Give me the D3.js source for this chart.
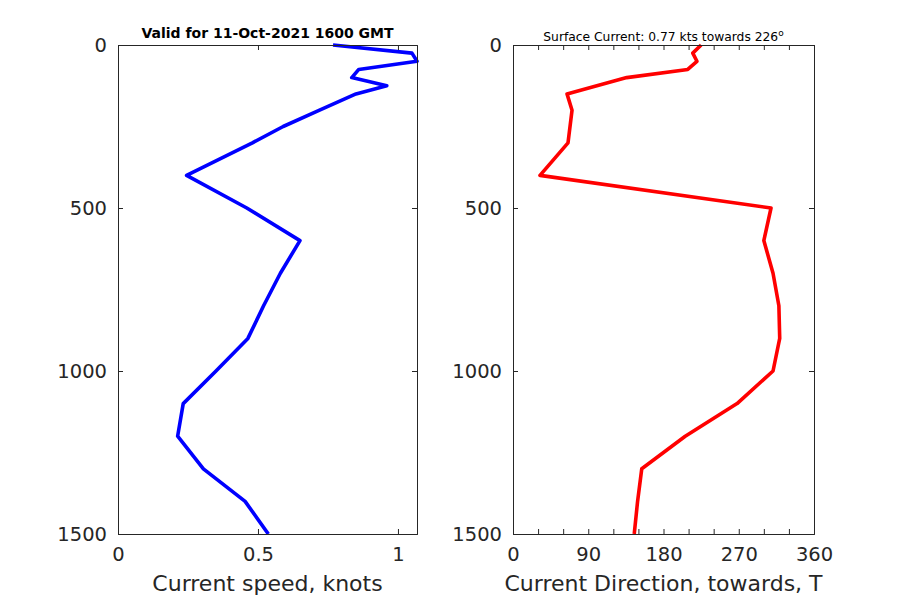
<!DOCTYPE html>
<html><head><meta charset="utf-8">
<script src="https://cdn.jsdelivr.net/npm/d3@7"></script>
<style>body{margin:0;background:#fff}svg{display:block}</style>
</head><body><svg id="c" width="900" height="600"></svg>
<script>
const depths = [0,25,50,75,100,125,150,200,250,300,400,500,600,700,800,900,1000,1100,1200,1300,1400,1500];
const speeds = [0.768,1.05,1.068,0.86,0.835,0.96,0.85,0.72,0.59,0.48,0.245,0.46,0.65,0.58,0.52,0.464,0.35,0.233,0.213,0.305,0.454,0.537];
const dirDepths = [0,25,50,75,100,150,200,300,400,500,600,700,800,900,1000,1100,1200,1300,1400,1500];
const directions = [225,215,220,209,136,64.6,70.6,65.8,32.3,308.6,300,311,318,319,311,268,206,154,149,145];
const depthTicks = [0,500,1000,1500];
const speedTicks = [0,0.5,1];
const dirTicks = [0,30,60,90,120,150,180,210,240,270,300,330,360];
const dirLabels = [0,90,180,270,360];
const title1 = "Valid for 11-Oct-2021 1600 GMT";
const title2 = "Surface Current: 0.77 kts towards 226";
const xlab1 = "Current speed, knots";
const xlab2 = "Current Direction, towards, T";

const svg = d3.select("#c");
const FONT = "DejaVu Sans, sans-serif";
const AX = "#262626";
const yTop = 45, yBot = 534;
const y = d3.scaleLinear().domain([0,1500]).range([yTop,yBot]);

function panel(x0,x1,domain,ticks,labels,fmt,xs,ys,color,tlab,xlab,titleBold){
  const x = d3.scaleLinear().domain(domain).range([x0,x1]);
  const g = svg.append("g");
  const line = d3.line().x(d=>x(d[0])).y(d=>y(d[1]));
  const pts = xs.map((v,i)=>[v,ys[i]]);
  const clip = "clip"+Math.round(x0);
  svg.append("clipPath").attr("id",clip).append("rect").attr("x",x0).attr("y",yTop-3).attr("width",x1-x0+3).attr("height",yBot-yTop+3);
  g.append("path").datum(pts).attr("d",line).attr("fill","none").attr("stroke",color)
   .attr("stroke-width",3.6).attr("stroke-linejoin","round").attr("clip-path",`url(#${clip})`);
  const bot = d3.axisBottom(x).tickValues(ticks).tickSize(-5).tickPadding(13)
    .tickFormat(d=>labels.includes(d)?fmt(d):"");
  const topA = d3.axisTop(x).tickValues(ticks).tickSize(-5).tickFormat("");
  const left = d3.axisLeft(y).tickValues(depthTicks).tickSize(-5).tickPadding(11).tickFormat(d3.format("d"));
  const right = d3.axisRight(y).tickValues(depthTicks).tickSize(-5).tickFormat("");
  const ga = [
    g.append("g").attr("transform",`translate(0,${yBot})`).call(bot),
    g.append("g").attr("transform",`translate(0,${yTop})`).call(topA),
    g.append("g").attr("transform",`translate(${x0},0)`).call(left),
    g.append("g").attr("transform",`translate(${x1},0)`).call(right)
  ];
  ga.forEach(a=>{
    a.select(".domain").attr("stroke",AX).attr("stroke-width",1);
    a.selectAll(".tick line").attr("stroke",AX);
    a.selectAll("text").attr("fill",AX).style("font-family",FONT).style("font-size","19.5px");
  });
  g.append("text").attr("x",(x0+x1)/2).attr("y",591).attr("text-anchor","middle")
   .attr("fill",AX).style("font-family",FONT).style("font-size","22px").text(xlab);
  const t = g.append("text").attr("x",(x0+x1)/2).attr("y",titleBold?38:41).attr("text-anchor","middle")
   .attr("fill","#000").style("font-family",FONT).style("font-size",titleBold?"14px":"12.3px")
   .style("font-weight",titleBold?"bold":"normal").text(tlab);
  if(!titleBold){ t.append("tspan").attr("dy",-5).style("font-size","9px").text("o"); }
}
panel(118,417,[0,1.068],speedTicks,speedTicks,d=>String(d),speeds,depths,"#0000ff",title1,xlab1,true);
panel(513,814,[0,360],dirTicks,dirLabels,d=>String(d),directions,dirDepths,"#ff0000",title2,xlab2,false);
</script></body></html>
